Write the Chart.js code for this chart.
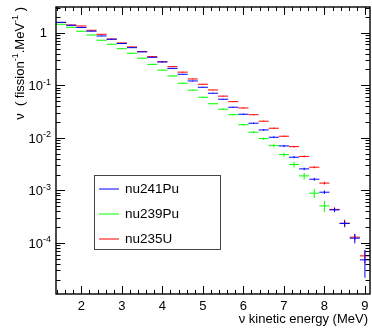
<!DOCTYPE html>
<html>
<head>
<meta charset="utf-8">
<script src="https://cdn.jsdelivr.net/npm/chart.js@4.4.1/dist/chart.umd.min.js"></script>
<style>
  html, body { margin: 0; padding: 0; background: #fff; }
</style>
</head>
<body>
<canvas id="spectrum" width="372" height="328"></canvas>
<script>
// bin centres (MeV), bins are 0.25 MeV wide
const binCenters = [1.5, 1.75, 2.0, 2.25, 2.5, 2.75, 3.0, 3.25, 3.5, 3.75, 4.0, 4.25, 4.5, 4.75, 5.0, 5.25,
  5.5, 5.75, 6.0, 6.25, 6.5, 6.75, 7.0, 7.25, 7.5, 7.75, 8.0, 8.25, 8.5, 8.75, 9.0];
const binWidth = 0.25;

const nu241Pu = [1.577, 1.383, 1.256, 1.068, 0.866, 0.749, 0.623, 0.519, 0.431, 0.3405, 0.2773, 0.2096, 0.1618,
  0.1207, 0.0916, 0.0705, 0.0542, 0.0382, 0.0281, 0.01896, 0.01413, 0.01026, 0.00701, 0.00428, 0.002564,
  0.001633, 0.000924, 0.000426, 0.000235, 0.0001233, 0.0000478];
const nu241PuErr = [0.02, 0.018, 0.016, 0.014, 0.012, 0.011, 0.009, 0.008, 0.007, 0.006, 0.005, 0.004, 0.0032,
  0.0025, 0.002, 0.0016, 0.0013, 0.001, 0.0008, 0.0006, 0.0005, 0.0004, 0.0003, 0.0002, 0.00014, 0.0001,
  0.00007, 0.00004, 0.00003, 0.000025, 0.000026];

const nu239Pu = [1.444, 1.267, 1.063, 0.904, 0.717, 0.602, 0.496, 0.406, 0.326, 0.2496, 0.1937, 0.1502, 0.1091,
  0.0807, 0.0591, 0.0445, 0.035, 0.0275, 0.01775, 0.01278, 0.00966, 0.00711, 0.00479, 0.00311, 0.001887,
  0.000885, 0.000507];
const nu239PuErr = [0.02, 0.018, 0.015, 0.013, 0.011, 0.01, 0.008, 0.007, 0.006, 0.005, 0.004, 0.0033, 0.0026,
  0.002, 0.0016, 0.0013, 0.0011, 0.0009, 0.0007, 0.00055, 0.00045, 0.0005, 0.0004, 0.00038, 0.00027, 0.00017,
  0.00012];

const nu235U = [1.563, 1.401, 1.341, 1.111, 0.9324, 0.759, 0.637, 0.535, 0.439, 0.35, 0.2798, 0.2258, 0.1775,
  0.1318, 0.1045, 0.0814, 0.0621, 0.0488, 0.037, 0.0275, 0.0207, 0.01522, 0.01072, 0.0068, 0.00443, 0.00276,
  0.001377, 0.000435, 0.000238, 0.000129, 0.0000569];
const nu235UErr = [0.02, 0.018, 0.017, 0.014, 0.012, 0.011, 0.009, 0.008, 0.007, 0.006, 0.005, 0.0042, 0.0034,
  0.0026, 0.0021, 0.0017, 0.0013, 0.0011, 0.0009, 0.0007, 0.00055, 0.00045, 0.00034, 0.00024, 0.00017,
  0.00012, 0.00008, 0.00004, 0.00004, 0.000018, 0.000016];

const xTickValues = [2, 3, 4, 5, 6, 7, 8, 9];
const yDecades = [1e-4, 1e-3, 1e-2, 1e-1, 1];
const yExponents = ['-4', '-3', '-2', '-1', ''];

const FONT = "'Liberation Sans', Arial, Helvetica, sans-serif";

function toPoints(vals, errs) {
  return vals.map((v, i) => ({ x: binCenters[i], y: v, err: errs[i] }));
}

// ROOT-like drawing: error crosses, frame with inner ticks, y labels, titles, legend
const rootStyle = {
  id: 'rootStyle',
  afterDatasetsDraw(chart) {
    const { ctx, chartArea: a, scales: { x, y } } = chart;
    ctx.save();

    // markers: horizontal bin line + vertical error
    ctx.save();
    ctx.beginPath();
    ctx.rect(a.left, a.top, a.right - a.left, a.bottom - a.top);
    ctx.clip();
    ctx.lineWidth = 1;
    [2, 1, 0].forEach(i => {
      const ds = chart.data.datasets[i];
      ctx.strokeStyle = ds.borderColor;
      ds.data.forEach(p => {
        const px = x.getPixelForValue(p.x);
        const py = y.getPixelForValue(p.y);
        const xa = x.getPixelForValue(p.x - binWidth / 2);
        const xb = x.getPixelForValue(p.x + binWidth / 2);
        const ya = y.getPixelForValue(p.y + p.err);
        const yb = y.getPixelForValue(Math.max(p.y - p.err, y.min));
        ctx.beginPath();
        ctx.moveTo(xa, py);
        ctx.lineTo(xb, py);
        ctx.moveTo(px, ya);
        ctx.lineTo(px, yb);
        ctx.stroke();
      });
    });
    ctx.restore();

    // ticks
    ctx.strokeStyle = '#000';
    ctx.lineWidth = 1;
    ctx.beginPath();
    for (let t = 1.4; t < x.max; t += 0.2) {
      const v = Math.round(t * 10) / 10;
      const major = Number.isInteger(v);
      const len = major ? 8 : 4;
      const px = Math.round(x.getPixelForValue(v)) + 0.5;
      ctx.moveTo(px, a.bottom); ctx.lineTo(px, a.bottom - len);
      ctx.moveTo(px, a.top); ctx.lineTo(px, a.top + len);
    }
    for (let d = -5; d <= 0; d++) {
      for (let k = 1; k <= 9; k++) {
        const v = k * Math.pow(10, d);
        if (v < y.min || v > y.max) continue;
        const len = k === 1 ? 9 : 4.5;
        const py = Math.round(y.getPixelForValue(v)) + 0.5;
        ctx.moveTo(a.left, py); ctx.lineTo(a.left + len, py);
        ctx.moveTo(a.right, py); ctx.lineTo(a.right - len, py);
      }
    }
    ctx.stroke();

    // frame
    ctx.lineWidth = 1.4;
    ctx.strokeRect(a.left, a.top, a.right - a.left, a.bottom - a.top);

    // y tick labels with superscript exponents
    ctx.fillStyle = '#000';
    ctx.textBaseline = 'middle';
    yDecades.forEach((v, i) => {
      const py = y.getPixelForValue(v);
      if (yExponents[i] === '') {
        ctx.font = '13px ' + FONT;
        ctx.textAlign = 'right';
        ctx.fillText('1', a.left - 9, py + 1);
      } else {
        ctx.font = '13px ' + FONT;
        ctx.textAlign = 'right';
        ctx.fillText('10', a.left - 13, py + 1.5);
        ctx.font = '9px ' + FONT;
        ctx.textAlign = 'left';
        ctx.fillText(yExponents[i], a.left - 13, py - 3);
      }
    });

    // x title, right aligned
    ctx.font = '13px ' + FONT;
    ctx.textAlign = 'right';
    ctx.fillText('ν kinetic energy (MeV)', a.right - 2, 319);

    // y title, rotated, top aligned
    ctx.translate(20, a.top);
    ctx.rotate(-Math.PI / 2);
    ctx.textBaseline = 'middle';
    ctx.textAlign = 'left';
    const parts = [['ν  ( fission', 13, 0], ['-1', 9, -4], ['.MeV', 13, 0], ['-1', 9, -4], [' )', 13, 0]];
    let total = 0;
    parts.forEach(([s, size]) => { ctx.font = size + 'px ' + FONT; total += ctx.measureText(s).width; });
    let cx = -total;
    parts.forEach(([s, size, dy]) => {
      ctx.font = size + 'px ' + FONT;
      ctx.fillText(s, cx, dy);
      cx += ctx.measureText(s).width;
    });
    ctx.restore();
  },
  afterDraw(chart) {
    const { ctx } = chart;
    ctx.save();
    const box = { left: 94.5, top: 175.5, width: 126, height: 74 };
    ctx.fillStyle = '#fff';
    ctx.fillRect(box.left, box.top, box.width, box.height);
    ctx.strokeStyle = '#444';
    ctx.lineWidth = 1;
    ctx.strokeRect(box.left, box.top, box.width, box.height);
    const rows = [189, 214, 239];
    chart.data.datasets.forEach((ds, i) => {
      ctx.strokeStyle = ds.borderColor;
      ctx.beginPath();
      ctx.moveTo(99, rows[i]);
      ctx.lineTo(119, rows[i]);
      ctx.stroke();
      ctx.fillStyle = '#000';
      ctx.font = '13.5px ' + FONT;
      ctx.textAlign = 'left';
      ctx.textBaseline = 'middle';
      ctx.fillText(ds.label, 125, rows[i] + 0.5);
    });
    ctx.restore();
  }
};

new Chart(document.getElementById('spectrum'), {
  type: 'scatter',
  data: {
    datasets: [
      { label: 'nu241Pu', data: toPoints(nu241Pu, nu241PuErr), borderColor: '#0000ff', backgroundColor: '#0000ff' },
      { label: 'nu239Pu', data: toPoints(nu239Pu, nu239PuErr), borderColor: '#00ff00', backgroundColor: '#00ff00' },
      { label: 'nu235U', data: toPoints(nu235U, nu235UErr), borderColor: '#ff0000', backgroundColor: '#ff0000' }
    ]
  },
  options: {
    responsive: false,
    animation: false,
    devicePixelRatio: 1,
    layout: { padding: { top: 7, right: 2, left: 0, bottom: 0 } },
    elements: { point: { radius: 0, hoverRadius: 0 } },
    plugins: { legend: { display: false }, tooltip: { enabled: false } },
    scales: {
      x: {
        type: 'linear',
        min: 1.375,
        max: 9.125,
        grid: { display: false },
        border: { display: false },
        afterBuildTicks: s => { s.ticks = xTickValues.map(v => ({ value: v })); },
        afterFit: s => { s.height = 34; },
        ticks: { color: '#000', font: { family: FONT, size: 13 }, padding: -3, maxRotation: 0 }
      },
      y: {
        type: 'logarithmic',
        min: 1.07e-5,
        max: 3.08,
        grid: { display: false },
        border: { display: false },
        ticks: { display: false },
        afterFit: s => { s.width = 56; }
      }
    }
  },
  plugins: [rootStyle]
});
</script>
</body>
</html>
